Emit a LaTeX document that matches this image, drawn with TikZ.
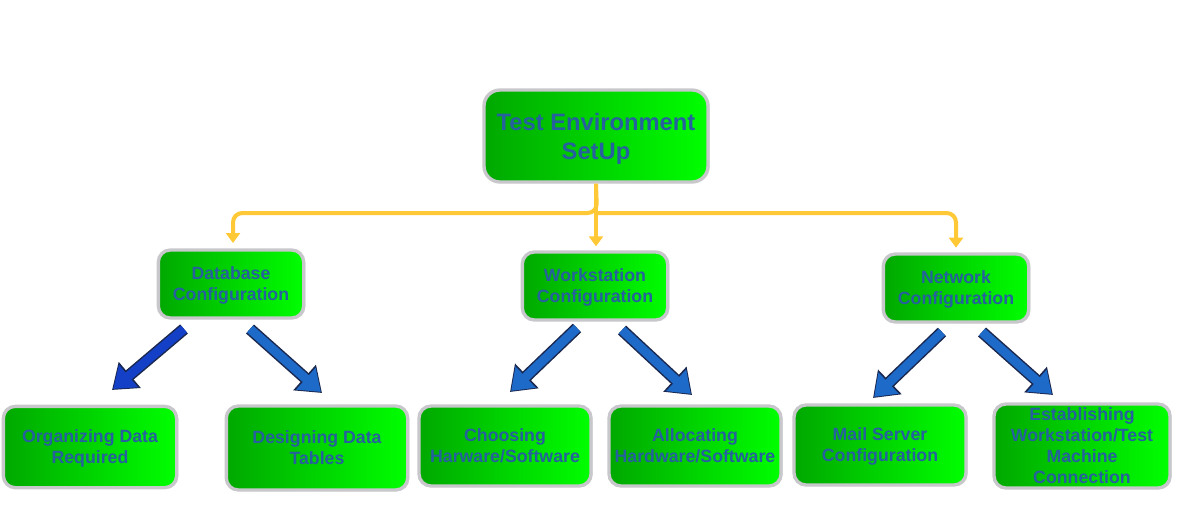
\documentclass[tikz,border=0pt]{standalone}
\usepackage{fontspec}
\setmainfont{Liberation Sans}
\usepackage{tikz}
\usetikzlibrary{arrows.meta,shadows}

\definecolor{boxgray}{RGB}{200,200,204}
\definecolor{txtblue}{RGB}{38,96,158}
\definecolor{feedgold}{RGB}{255,200,55}
\definecolor{arrnavy}{RGB}{26,40,80}
\definecolor{arrblue}{RGB}{30,106,200}
\definecolor{arrdeep}{RGB}{20,64,200}

\tikzset{
  box/.style={rounded corners=9pt, draw=boxgray, line width=2.5pt,
    left color=green!66!black, right color=green, text=txtblue,
    drop shadow={shadow xshift=1.2pt, shadow yshift=-0.8pt, fill=gray!60},
    font=\bfseries\fontsize{13.3}{15.75}\selectfont, align=center,
    inner sep=0pt, text depth=0pt},
  topbox/.style={box, rounded corners=12pt,
    font=\bfseries\fontsize{17.8}{21.8}\selectfont},
  feed/.style={draw=feedgold, line width=3pt, rounded corners=7pt,
    -{Triangle[width=10.5pt,length=7.5pt]}},
  blk/.style={draw=#1, line width=6.75pt, shorten >=1.2pt,
    -{Triangle[width=21pt,length=15pt]},
    preaction={draw=arrnavy, line width=9pt, shorten >=0pt,
    -{Triangle[width=24.5pt,length=17.5pt]}}},
  blk/.default=arrblue
}

\begin{document}
\begin{tikzpicture}[x=0.75pt,y=-0.75pt]
    \useasboundingbox (0,0) rectangle (1193,514);
    \node[topbox, minimum width=168pt, minimum height=69pt] (root) at (596,136) {Test Environment\\SetUp};
    \node[box, minimum width=109pt, minimum height=51pt] (db) at (231,284) {Database\\Configuration};
    \node[box, minimum width=109pt, minimum height=51pt] (ws) at (595,286) {Workstation\\Configuration};
    \node[box, minimum width=109pt, minimum height=51pt] (nw) at (956,288) {Network\\Configuration};
    \node[box, minimum width=130pt, minimum height=61pt] (org) at (90,447) {Organizing Data\\Required};
    \node[box, minimum width=136pt, minimum height=63pt] (des) at (317,448) {Designing Data\\Tables};
    \node[box, minimum width=129pt, minimum height=60pt] (cho) at (505,446) {Choosing\\Harware/Software};
    \node[box, minimum width=129pt, minimum height=60pt] (all) at (695,446) {Allocating\\Hardware/Software};
    \node[box, minimum width=129pt, minimum height=60pt] (mail) at (880,445) {Mail Server\\Configuration};
    \node[box, minimum width=132pt, minimum height=63pt] (est) at (1082,446) {Establishing\\Workstation/Test\\Machine\\Connection};
    % yellow feeds
    \coordinate (bus) at (597,213);
    \draw[feed] (root.south) -- (bus) -| ([xshift=1.5pt,yshift=4pt]db.north);
    \draw[feed] (root.south) -- ([yshift=3pt]ws.north -| root.south);
    \draw[feed] (bus) -| ([yshift=3.5pt]nw.north);
    % blue arrows
    \coordinate (dbL0) at (184,329); \coordinate (dbL1) at (112,390);
    \coordinate (dbR0) at (250,329); \coordinate (dbR1) at (322,393);
    \coordinate (wsL0) at (577,328); \coordinate (wsL1) at (510,392);
    \coordinate (wsR0) at (622,330); \coordinate (wsR1) at (692,395);
    \coordinate (nwL0) at (942,332); \coordinate (nwL1) at (873,398);
    \coordinate (nwR0) at (982,332); \coordinate (nwR1) at (1053,395);
    \draw[blk=arrdeep] (dbL0) -- (dbL1);
    \draw[blk] (dbR0) -- (dbR1);
    \draw[blk] (wsL0) -- (wsL1);
    \draw[blk] (wsR0) -- (wsR1);
    \draw[blk] (nwL0) -- (nwL1);
    \draw[blk] (nwR0) -- (nwR1);
\end{tikzpicture}
\end{document}
